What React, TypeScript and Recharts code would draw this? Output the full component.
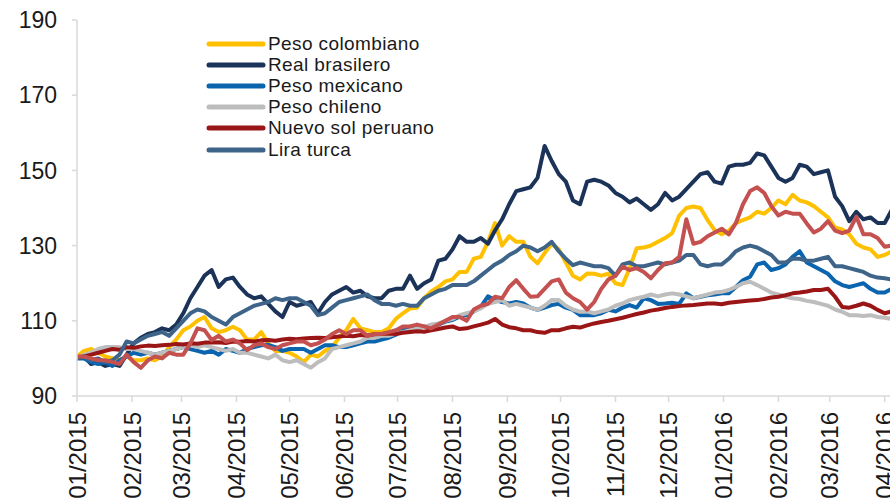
import { LineChart, Line, XAxis, YAxis, Legend } from "recharts";

const FONT = "'Liberation Sans', Arial, sans-serif";
const INK = "#1a1a1a";
const AXIS = "#d9d9d9";

// sampling grid: calendar days since 01/01/2015, every 4 days
const days = Array.from({ length: 116 }, (_, i) => i * 4);

const monthTicks = [0, 31, 59, 90, 120, 151, 181, 212, 243, 273, 304, 334, 365, 396, 425, 456];
const monthLabels = [
  "01/2015", "02/2015", "03/2015", "04/2015", "05/2015", "06/2015", "07/2015", "08/2015",
  "09/2015", "10/2015", "11/2015", "12/2015", "01/2016", "02/2016", "03/2016", "04/2016",
];
const yTicks = [90, 110, 130, 150, 170, 190];

const pesoColombiano = [
  100.5, 102, 102.5, 101.5, 100.5, 100, 99.5, 100.5, 99.5, 99.5,
  100, 99.5, 100.5, 103, 105, 107.5, 108.5, 110, 111, 108,
  107, 107.5, 108.4, 107.5, 105, 105, 107, 104, 102, 102,
  101.5, 100.5, 99, 101, 100.5, 102, 103, 105.5, 107.5, 110.5,
  108, 107.5, 107, 107, 108, 110.5, 112, 113.3, 113.5, 116,
  117.8, 119, 120.5, 121, 123, 123, 126.5, 127, 131, 136,
  130, 132.5, 131, 131, 127, 125.3, 128, 130.5, 129, 125.5,
  122, 121, 122.6, 122.5, 122, 122.5, 120, 119.5, 124, 129.3,
  129.5, 130, 131, 132, 133.3, 138, 140, 140.4, 140, 136.8,
  134.1, 133, 134, 136, 136.8, 137.5, 139, 138.5, 140, 142,
  141, 143.5, 142, 141.5, 140.5, 139, 137.5, 134.8, 134.3, 133,
  130.5, 129.5, 129, 127, 127.5, 128.5,
];

const realBrasilero = [
  100, 100.5, 98.5, 99, 98, 98.5, 98, 101, 104, 105.5,
  106.5, 107, 108, 107.5, 109, 112, 116, 119, 122, 123.5,
  119, 121, 121.5, 119, 117, 116, 116.5, 114.5, 112.5, 111,
  115, 114, 114.5, 115, 112, 115, 117, 118, 119, 117.5,
  118, 116.5, 116, 116, 118, 118.5, 118.5, 122, 118.5, 120,
  121, 126, 126.5, 129, 132.5, 131, 131, 132, 130.5, 134,
  137, 141, 144.5, 145, 145.5, 148, 156.5, 152.5, 149, 147,
  142, 141, 147, 147.5, 147, 146, 144, 143, 141.5, 142.5,
  141, 139.5, 141, 144, 142, 143, 145, 147, 149, 149.5,
  147, 146.5, 151, 151.5, 151.5, 152, 154.5, 154, 151, 148,
  147, 148, 151.5, 151, 149, 149.5, 150, 143, 140.5, 136.5,
  139, 137, 137.5, 136, 136, 139.5,
];

const pesoMexicano = [
  100, 100, 99, 98.5, 99, 98, 99.5, 100.5, 101.5, 101,
  101.5, 101, 101.5, 102, 102.5, 103, 102.5, 102, 101.5, 102,
  101, 102.5, 102, 101.5, 102.5, 103, 103.5, 103.6, 103, 102,
  102.5, 102.5, 102.5, 101.5, 102.5, 103.5, 103.5, 103, 103, 103.5,
  104, 104.5, 104.5, 105, 105.5, 106.3, 107.5, 108.4, 108, 108.4,
  108.4, 109, 109.8, 110.2, 111.1, 111.5, 112.5, 113.7, 116.5, 115.5,
  115, 114.6, 115, 114.6, 113.5, 112.9, 113.5, 114.2, 114.5, 113.5,
  112.9, 111.5, 111.5, 111.5, 112, 112.9, 112.5, 113.5, 114.2, 113.5,
  116, 115.5, 114.5, 114.6, 114.8, 114.5, 117.3, 116, 116.4, 116.8,
  117, 117.3, 117.3, 119, 120.8, 121.7, 125, 125.5, 123.5, 124,
  125, 127, 128.5, 125.5, 124.5, 123.5, 122.5, 120.5, 119.5, 119,
  119.5, 120, 118.5, 117.5, 117.5, 118.5,
];

const pesoChileno = [
  100, 101, 101.5, 102.5, 103, 103, 103, 102.5, 102.5, 102,
  101.5, 101, 101.5, 102, 102.5, 103, 103.5, 103, 103.5, 103,
  102.5, 102, 102.5, 101.5, 101.5, 101, 100.5, 100, 101, 99.5,
  99, 99.5, 98.5, 97.5, 99, 100, 102.5, 103, 103.5, 104,
  104.5, 105.5, 105.5, 106, 106, 106.6, 107, 107.5, 108, 108.4,
  109, 109.3, 110, 110.5, 111.5, 112, 112.5, 113.3, 114.5, 115,
  115.5, 114, 114.5, 114, 113.5, 112.9, 114, 115.5, 115.5, 114,
  113, 112.4, 112.5, 112, 112.5, 113, 114, 114.6, 115.5, 116,
  116.4, 117, 116.5, 117, 117.3, 117, 116.5, 116, 116.5, 117,
  117.5, 117.7, 118.2, 119, 120, 120.4, 119.5, 118.5, 117.5, 117,
  116.4, 116, 115.8, 115.3, 115, 114.5, 114, 113, 112.4, 111.5,
  111.5, 111.3, 111.5, 111, 110.8, 110.5,
];

const nuevoSol = [
  100, 100.5, 101, 101.5, 102, 102.5, 102.3, 103, 102.8, 103.2,
  103.4, 103.3, 103.5, 103.6, 103.8, 103.7, 104, 103.9, 104.2, 104.2,
  104.3, 104.1, 104.5, 104.4, 104.6, 104.5, 104.8, 104.9, 104.7, 105,
  105.2, 105.1, 105.3, 105.4, 105.5, 105.4, 105.6, 105.8, 106, 105.9,
  106.2, 106.1, 106.4, 106.5, 106.6, 106.5, 106.8, 107, 107.2, 107.1,
  107.5, 107.8, 108.2, 108.5, 107.8, 108, 108.5, 109, 109.5, 110.5,
  109, 108.3, 108, 107.5, 107.5, 107, 106.8, 107.5, 107.5, 108,
  108.4, 108.2, 108.8, 109.3, 109.7, 110, 110.4, 110.8, 111.3, 111.8,
  112.2, 112.7, 113, 113.4, 113.7, 113.9, 114.1, 114.2, 114.4, 114.6,
  114.6, 114.4, 114.8, 115, 115.2, 115.4, 115.5, 115.8, 116.2, 116.4,
  116.8, 117.3, 117.5, 117.8, 118.2, 118.2, 118.5, 116.4, 113.7, 113.5,
  114, 114.6, 114, 112.9, 112, 112.5,
];

const liraTurca = [
  100, 100.5, 99.5, 100, 99, 99.5, 101, 104.5, 104, 105,
  106, 106.5, 107, 106, 108, 110, 112, 113, 112.5, 111,
  110, 109, 111, 112, 113, 114, 114.5, 115, 116, 115.5,
  116, 116, 115, 114, 111.5, 112, 113.5, 115, 115.5, 116,
  116.5, 117, 115.5, 114.5, 114.5, 114, 114.5, 114, 114, 116,
  117, 118, 118.5, 119.5, 119.5, 119.5, 120.5, 122, 123.5, 125,
  126, 127.5, 128.5, 130, 129.5, 128.5, 129.5, 131, 128.5, 126.5,
  124.8, 125.5, 125, 124.5, 124.5, 124, 122, 125, 125.5, 124.5,
  124.5, 125, 125.5, 125, 125.5, 126, 127.5, 127.5, 125, 124.5,
  125, 125, 126.5, 128.5, 129.5, 130, 129.5, 128.5, 127.5, 125.5,
  125.5, 126.5, 126.5, 126, 126, 126.5, 127, 124.5, 124.5, 124,
  123.5, 123, 122, 121.5, 121.3, 121,
];

// seventh series drawn in the reference but missing from its legend
const serieSinLeyenda = [
  100.5, 100.5, 100, 99.5, 99.5, 99, 98.5, 101, 99, 97.5,
  99.5, 100.5, 100, 101.5, 101, 101, 104, 108, 107.5, 104.9,
  106, 104.5, 105, 104, 102.2, 103.5, 104, 103, 102.5, 103.5,
  104, 104.5, 104.5, 103.5, 104, 105, 106.5, 107.5, 106.5, 107.5,
  107.5, 106, 106.5, 106.5, 107, 107.5, 108.5, 108.5, 109, 108.5,
  108, 109, 110, 111, 111, 110, 113, 114, 114.5, 116.4,
  116, 119, 120.8, 118.5, 116.4, 116.5, 118.5, 120.5, 121, 117.5,
  116, 115, 113, 115, 118.5, 121, 122, 124.4, 123.5, 124,
  123, 121.3, 123.5, 125.3, 125.5, 127, 137, 130.5, 131, 132.5,
  133.5, 134.5, 133, 136, 141, 144.5, 145.5, 144, 140.5, 138,
  139, 138.5, 138.5, 135.9, 133.5, 134.5, 136.5, 134, 133.3, 134,
  137.7, 133, 133, 132, 129.7, 130,
];

const data = days.map((d, i) => ({
  d,
  pesoColombiano: pesoColombiano[i],
  realBrasilero: realBrasilero[i],
  pesoMexicano: pesoMexicano[i],
  pesoChileno: pesoChileno[i],
  nuevoSol: nuevoSol[i],
  liraTurca: liraTurca[i],
  serieSinLeyenda: serieSinLeyenda[i],
}));

const SERIES = [
  { key: "pesoColombiano", name: "Peso colombiano", color: "#FFC000" },
  { key: "realBrasilero", name: "Real brasilero", color: "#1B3358" },
  { key: "pesoMexicano", name: "Peso mexicano", color: "#0A64AE" },
  { key: "pesoChileno", name: "Peso chileno", color: "#BDBDBD" },
  { key: "nuevoSol", name: "Nuevo sol peruano", color: "#9A1515" },
  { key: "liraTurca", name: "Lira turca", color: "#3E6589" },
];
const seriesOrder = (name: string) => SERIES.findIndex((s) => s.name === name);

const MonthTick = ({ x, y, payload }: any) => {
  const idx = monthTicks.indexOf(payload.value);
  return (
    <text
      transform={`translate(${x},${y + 8}) rotate(-90)`}
      textAnchor="end"
      dy="0.36em"
      fontSize={24}
      fontFamily={FONT}
      fill={INK}
    >
      {monthLabels[idx]}
    </text>
  );
};

const LegendBox = ({ payload }: any) => (
  <div style={{ fontFamily: FONT, fontSize: 19, color: INK }}>
    {(payload || [])
      .filter((p: any) => seriesOrder(p.value) >= 0)
      .sort((a: any, b: any) => seriesOrder(a.value) - seriesOrder(b.value))
      .map((p: any) => (
        <div key={p.value} style={{ display: "flex", alignItems: "center", height: 21.2, whiteSpace: "nowrap" }}>
          <svg width={60} height={8}>
            <line x1={3} y1={4} x2={57} y2={4} stroke={p.color} strokeWidth={5} strokeLinecap="round" />
          </svg>
          <span style={{ marginLeft: 2, letterSpacing: 0.4 }}>{p.value}</span>
        </div>
      ))}
  </div>
);

export default function App() {
  return (
    <div style={{ position: "absolute", left: 0, top: 0, width: 890, height: 499, background: "#fff" }}>
      <LineChart width={890} height={499} data={data} margin={{ top: 20, right: 0, bottom: 0, left: 0 }}>
        <XAxis
          type="number"
          dataKey="d"
          domain={[0, 459]}
          allowDataOverflow
          ticks={monthTicks}
          interval={0}
          height={103}
          tickSize={6}
          tickMargin={2}
          tick={<MonthTick />}
          axisLine={{ stroke: AXIS, strokeWidth: 1.5 }}
          tickLine={{ stroke: AXIS, strokeWidth: 1.5 }}
        />
        <YAxis
          type="number"
          domain={[90, 190]}
          ticks={yTicks}
          interval={0}
          width={77}
          tickSize={5}
          tickMargin={15}
          tick={{ fill: INK, fontSize: 23, fontFamily: FONT }}
          axisLine={{ stroke: AXIS, strokeWidth: 1.5 }}
          tickLine={{ stroke: AXIS, strokeWidth: 1.5 }}
        />
        <Legend
          layout="vertical"
          align="center"
          verticalAlign="middle"
          itemSorter={null}
          content={<LegendBox />}
          wrapperStyle={{ left: 206, top: 33, width: 260, height: 130 }}
        />
        {SERIES.map((s) => (
          <Line
            key={s.key}
            type="linear"
            dataKey={s.key}
            name={s.name}
            stroke={s.color}
            strokeWidth={4}
            strokeLinejoin="round"
            dot={false}
            activeDot={false}
            isAnimationActive={false}
          />
        ))}
        <Line
          type="linear"
          dataKey="serieSinLeyenda"
          name="serieSinLeyenda"
          stroke="#C4504F"
          strokeWidth={4}
          strokeLinejoin="round"
          dot={false}
          activeDot={false}
          legendType="none"
          isAnimationActive={false}
        />
      </LineChart>
    </div>
  );
}
